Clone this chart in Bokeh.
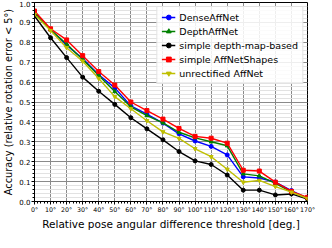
from bokeh.plotting import figure
from bokeh.models import FixedTicker, Range1d, Legend, LegendItem
from bokeh.embed import file_html
from bokeh.resources import INLINE

angles = [0, 10, 20, 30, 40, 50, 60, 70, 80, 90, 100, 110, 120, 130, 140, 150, 160, 170]
x_tick_labels = ["0°", "10°", "20°", "30°", "40°", "50°", "60°", "70°", "80°", "90°",
                 "100°", "110°", "120°", "130°", "140°", "150°", "160°", "170°"]
y_ticks = [0.0, 0.1, 0.2, 0.3, 0.4, 0.5, 0.6, 0.7, 0.8, 0.9, 1.0]
y_tick_labels = ["0.0", "0.1", "0.2", "0.3", "0.4", "0.5", "0.6", "0.7", "0.8", "0.9", "1.0"]

dense_affnet = [0.950, 0.864, 0.785, 0.718, 0.637, 0.571, 0.480, 0.439, 0.394, 0.340,
                0.304, 0.277, 0.234, 0.124, 0.118, 0.098, 0.055, 0.016]
depth_affnet = [0.948, 0.863, 0.791, 0.714, 0.633, 0.553, 0.476, 0.432, 0.395, 0.348,
                0.320, 0.300, 0.280, 0.139, 0.129, 0.091, 0.048, 0.015]
simple_depth = [0.932, 0.823, 0.723, 0.625, 0.554, 0.488, 0.421, 0.365, 0.310, 0.251,
                0.204, 0.186, 0.133, 0.057, 0.057, 0.033, 0.038, 0.012]
simple_shapes = [0.957, 0.868, 0.812, 0.733, 0.653, 0.585, 0.500, 0.457, 0.414, 0.367,
                 0.327, 0.318, 0.293, 0.157, 0.153, 0.097, 0.051, 0.021]
unrectified = [0.940, 0.859, 0.773, 0.705, 0.618, 0.527, 0.466, 0.406, 0.350, 0.317,
               0.265, 0.225, 0.162, 0.097, 0.106, 0.075, 0.047, 0.015]

series = [
    ("DenseAffNet", dense_affnet, "#0000ff", "circle"),
    ("DepthAffNet", depth_affnet, "#008000", "triangle"),
    ("simple depth-map-based", simple_depth, "#000000", "circle"),
    ("simple AffNetShapes", simple_shapes, "#ff0000", "square"),
    ("unrectified AffNet", unrectified, "#bfbf00", "inverted_triangle"),
]

FONT = "DejaVu Sans"

p = figure(width=316, height=232, output_backend="svg", toolbar_location=None,
           x_range=Range1d(0, 170), y_range=Range1d(0, 1.0),
           min_border_left=0, min_border_right=9, min_border_top=2, min_border_bottom=0)
p.background_fill_color = "white"
p.outline_line_color = "black"
p.outline_line_width = 1

p.xaxis.ticker = FixedTicker(ticks=angles, minor_ticks=list(range(0, 171, 2)))
p.xaxis.major_label_overrides = {a: l for a, l in zip(angles, x_tick_labels)}
p.yaxis.ticker = FixedTicker(ticks=y_ticks, minor_ticks=[i / 50 for i in range(51)])
p.yaxis.major_label_overrides = {t: l for t, l in zip(y_ticks, y_tick_labels)}

for ax in (p.xaxis, p.yaxis):
    ax.major_label_text_font = FONT
    ax.major_label_text_color = "black"
    ax.axis_label_text_font = FONT
    ax.axis_label_text_font_style = "normal"
    ax.axis_label_text_color = "black"
    ax.axis_line_color = "black"
    ax.major_tick_line_color = "black"
    ax.minor_tick_line_color = "black"
    ax.major_tick_out = 3
    ax.major_tick_in = 0
    ax.minor_tick_out = 2
    ax.minor_tick_in = 0
    ax.major_label_standoff = 1
    ax.axis_label_standoff = 2

p.xaxis.major_label_text_font_size = "6.3px"
p.yaxis.major_label_text_font_size = "7px"
p.xaxis.axis_label = "Relative pose angular difference threshold [deg.]"
p.xaxis.axis_label_text_font_size = "10.5px"
p.yaxis.axis_label = "Accuracy (relative rotation error < 5°)"
p.yaxis.axis_label_text_font_size = "9.8px"

p.xgrid.ticker = FixedTicker(ticks=angles)
p.ygrid.ticker = FixedTicker(ticks=y_ticks, minor_ticks=[i / 50 for i in range(51)])
p.xgrid.grid_line_color = "#8a8a8a"
p.ygrid.grid_line_color = "#8a8a8a"
p.xgrid.grid_line_width = 1
p.ygrid.grid_line_width = 1
p.ygrid.minor_grid_line_color = "#e2e2e2"
p.ygrid.minor_grid_line_width = 1

items = []
for name, vals, color, marker in series:
    r1 = p.line(angles, vals, line_color=color, line_width=1.4)
    r2 = p.scatter(angles, vals, marker=marker, size=4, fill_color=color, line_color=color)
    items.append(LegendItem(label=name, renderers=[r1, r2]))

legend = Legend(items=items, location="top_right")
legend.label_text_font = FONT
legend.label_text_font_size = "9.5px"
legend.label_text_color = "black"
legend.label_height = 12
legend.label_standoff = 4
legend.glyph_height = 12
legend.glyph_width = 14
legend.spacing = 2
legend.padding = 4
legend.margin = 4
legend.border_line_color = "#c8c8c8"
legend.border_line_width = 1
legend.background_fill_color = "white"
legend.background_fill_alpha = 0.85
p.add_layout(legend)

open("out.html", "w").write(file_html(p, INLINE))
